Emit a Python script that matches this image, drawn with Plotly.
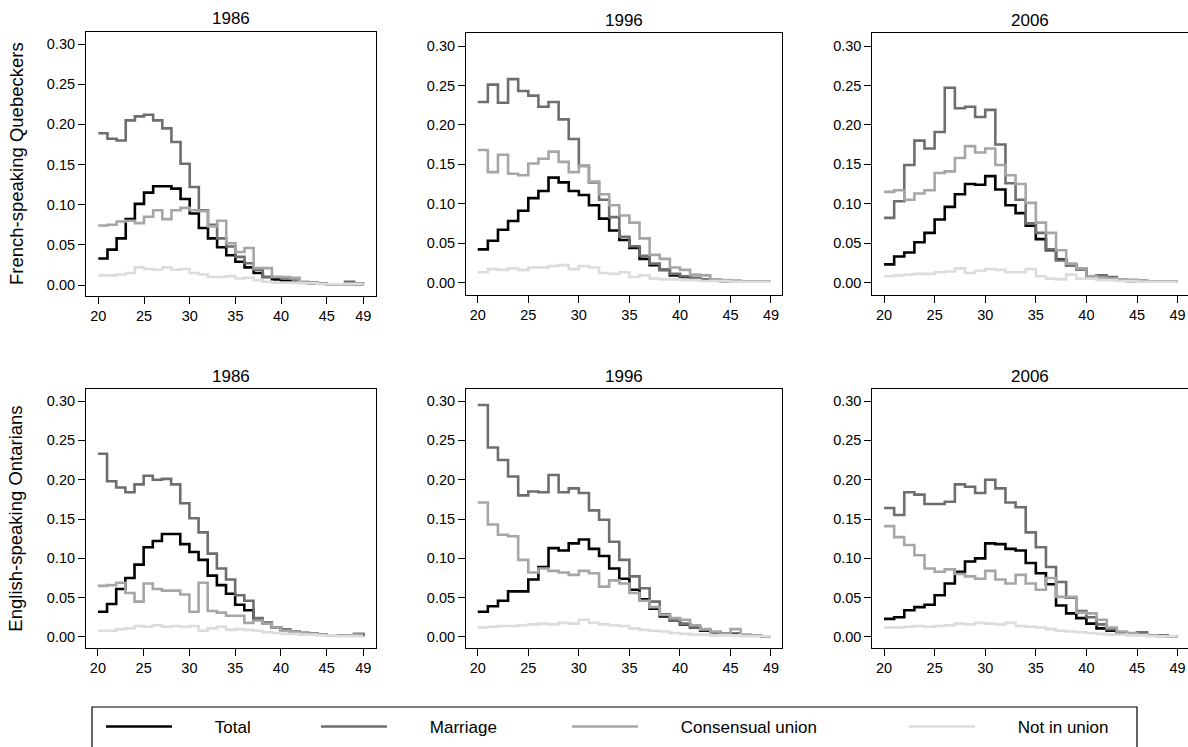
import plotly.graph_objects as go

# ---------------- data ----------------
AGES = list(range(20, 50))
X_TICKS = [20, 25, 30, 35, 40, 45, 49]
Y_TICKS = [0.0, 0.05, 0.10, 0.15, 0.20, 0.25, 0.30]
Y_TICK_LABELS = ["0.00", "0.05", "0.10", "0.15", "0.20", "0.25", "0.30"]
YEARS = ["1986", "1996", "2006"]
GROUPS = ["French-speaking Quebeckers", "English-speaking Ontarians"]
SERIES = ["Total", "Marriage", "Consensual union", "Not in union"]

# French-speaking Quebeckers
QC_1986_TOTAL = [0.033, 0.044, 0.058, 0.082, 0.101, 0.115, 0.123, 0.123, 0.120, 0.107, 0.089, 0.071, 0.058, 0.047, 0.037,
                 0.029, 0.022, 0.015, 0.010, 0.007, 0.005, 0.004, 0.003, 0.002, 0.002, 0.001, 0.001, 0.001, 0.001, 0.001]
QC_1986_MARRIAGE = [0.189, 0.182, 0.180, 0.205, 0.210, 0.212, 0.205, 0.195, 0.178, 0.151, 0.122, 0.093, 0.075, 0.058, 0.048,
                    0.035, 0.027, 0.019, 0.010, 0.010, 0.008, 0.008, 0.003, 0.003, 0.002, 0.001, 0.001, 0.004, 0.001, 0.001]
QC_1986_CONSENSUAL = [0.074, 0.075, 0.079, 0.080, 0.077, 0.085, 0.093, 0.082, 0.093, 0.096, 0.093, 0.092, 0.073, 0.080, 0.052,
                      0.041, 0.046, 0.021, 0.021, 0.010, 0.010, 0.009, 0.004, 0.003, 0.002, 0.001, 0.001, 0.002, 0.002, 0.001]
QC_1986_NOT_IN_UNION = [0.012, 0.012, 0.013, 0.015, 0.022, 0.020, 0.019, 0.022, 0.019, 0.020, 0.015, 0.013, 0.010, 0.010, 0.011,
                        0.008, 0.009, 0.006, 0.004, 0.003, 0.003, 0.003, 0.002, 0.002, 0.001, 0.001, 0.001, 0.001, 0.001, 0.001]

QC_1996_TOTAL = [0.042, 0.053, 0.067, 0.078, 0.091, 0.107, 0.116, 0.133, 0.127, 0.116, 0.111, 0.098, 0.081, 0.066, 0.054,
                 0.044, 0.030, 0.022, 0.016, 0.009, 0.007, 0.005, 0.004, 0.003, 0.002, 0.002, 0.001, 0.001, 0.001, 0.001]
QC_1996_MARRIAGE = [0.229, 0.251, 0.228, 0.258, 0.243, 0.237, 0.223, 0.229, 0.207, 0.182, 0.148, 0.127, 0.105, 0.083, 0.058,
                    0.046, 0.034, 0.024, 0.016, 0.011, 0.008, 0.006, 0.004, 0.004, 0.002, 0.001, 0.001, 0.001, 0.001, 0.001]
QC_1996_CONSENSUAL = [0.168, 0.140, 0.162, 0.138, 0.136, 0.151, 0.157, 0.166, 0.153, 0.140, 0.148, 0.128, 0.112, 0.098, 0.085,
                      0.076, 0.056, 0.035, 0.030, 0.019, 0.016, 0.010, 0.009, 0.004, 0.003, 0.002, 0.001, 0.001, 0.001, 0.001]
QC_1996_NOT_IN_UNION = [0.013, 0.017, 0.016, 0.018, 0.016, 0.019, 0.019, 0.021, 0.022, 0.017, 0.021, 0.019, 0.012, 0.011, 0.013,
                        0.007, 0.009, 0.005, 0.004, 0.004, 0.003, 0.003, 0.002, 0.002, 0.002, 0.001, 0.001, 0.001, 0.001, 0.001]

QC_2006_TOTAL = [0.023, 0.033, 0.038, 0.051, 0.063, 0.080, 0.096, 0.112, 0.125, 0.124, 0.135, 0.118, 0.098, 0.088, 0.072,
                 0.055, 0.041, 0.029, 0.022, 0.017, 0.007, 0.005, 0.006, 0.003, 0.002, 0.002, 0.001, 0.001, 0.001, 0.001]
QC_2006_MARRIAGE = [0.082, 0.103, 0.149, 0.180, 0.170, 0.191, 0.247, 0.221, 0.223, 0.210, 0.219, 0.175, 0.126, 0.105, 0.075,
                    0.063, 0.042, 0.028, 0.022, 0.017, 0.007, 0.009, 0.007, 0.004, 0.003, 0.002, 0.001, 0.001, 0.001, 0.001]
QC_2006_CONSENSUAL = [0.115, 0.117, 0.105, 0.113, 0.117, 0.139, 0.141, 0.158, 0.173, 0.165, 0.170, 0.149, 0.136, 0.125, 0.101,
                      0.076, 0.063, 0.041, 0.024, 0.018, 0.008, 0.006, 0.005, 0.004, 0.003, 0.002, 0.001, 0.001, 0.001, 0.001]
QC_2006_NOT_IN_UNION = [0.008, 0.009, 0.010, 0.011, 0.011, 0.013, 0.014, 0.018, 0.012, 0.015, 0.017, 0.016, 0.013, 0.013, 0.017,
                        0.008, 0.005, 0.004, 0.010, 0.005, 0.005, 0.003, 0.003, 0.002, 0.002, 0.001, 0.001, 0.001, 0.001, 0.001]

# English-speaking Ontarians
ON_1986_TOTAL = [0.032, 0.042, 0.061, 0.075, 0.092, 0.114, 0.122, 0.131, 0.131, 0.118, 0.108, 0.098, 0.078, 0.066, 0.055,
                 0.041, 0.034, 0.022, 0.018, 0.012, 0.009, 0.007, 0.005, 0.004, 0.003, 0.002, 0.002, 0.002, 0.003, 0.001]
ON_1986_MARRIAGE = [0.233, 0.198, 0.190, 0.184, 0.194, 0.205, 0.200, 0.201, 0.194, 0.170, 0.151, 0.133, 0.106, 0.087, 0.073,
                    0.053, 0.046, 0.024, 0.017, 0.012, 0.009, 0.007, 0.005, 0.004, 0.003, 0.002, 0.002, 0.002, 0.004, 0.001]
ON_1986_CONSENSUAL = [0.065, 0.066, 0.069, 0.056, 0.045, 0.068, 0.061, 0.059, 0.059, 0.054, 0.032, 0.069, 0.033, 0.031, 0.027,
                      0.027, 0.018, 0.021, 0.017, 0.012, 0.008, 0.007, 0.005, 0.004, 0.003, 0.002, 0.002, 0.002, 0.003, 0.003]
ON_1986_NOT_IN_UNION = [0.008, 0.008, 0.010, 0.011, 0.014, 0.013, 0.015, 0.013, 0.014, 0.013, 0.014, 0.008, 0.011, 0.013, 0.009,
                        0.010, 0.009, 0.008, 0.006, 0.005, 0.004, 0.004, 0.003, 0.003, 0.002, 0.002, 0.001, 0.001, 0.001, 0.001]

ON_1996_TOTAL = [0.032, 0.039, 0.046, 0.058, 0.058, 0.073, 0.089, 0.113, 0.110, 0.119, 0.124, 0.112, 0.103, 0.087, 0.074,
                 0.060, 0.048, 0.036, 0.026, 0.021, 0.016, 0.012, 0.008, 0.006, 0.004, 0.004, 0.002, 0.002, 0.001, 0.001]
ON_1996_MARRIAGE = [0.295, 0.241, 0.225, 0.204, 0.180, 0.185, 0.184, 0.206, 0.184, 0.189, 0.183, 0.161, 0.149, 0.121, 0.098,
                    0.077, 0.062, 0.045, 0.029, 0.021, 0.017, 0.012, 0.009, 0.006, 0.004, 0.003, 0.002, 0.002, 0.001, 0.001]
ON_1996_CONSENSUAL = [0.171, 0.143, 0.130, 0.128, 0.098, 0.082, 0.087, 0.084, 0.082, 0.079, 0.084, 0.081, 0.064, 0.072, 0.068,
                      0.056, 0.046, 0.038, 0.028, 0.024, 0.022, 0.015, 0.010, 0.007, 0.004, 0.010, 0.003, 0.002, 0.001, 0.001]
ON_1996_NOT_IN_UNION = [0.012, 0.013, 0.014, 0.014, 0.015, 0.016, 0.017, 0.016, 0.018, 0.017, 0.022, 0.018, 0.016, 0.015, 0.014,
                        0.011, 0.009, 0.008, 0.007, 0.005, 0.004, 0.003, 0.003, 0.002, 0.002, 0.002, 0.001, 0.001, 0.001, 0.001]

ON_2006_TOTAL = [0.023, 0.025, 0.034, 0.038, 0.041, 0.053, 0.068, 0.083, 0.096, 0.100, 0.119, 0.118, 0.112, 0.110, 0.094,
                 0.081, 0.067, 0.040, 0.030, 0.024, 0.017, 0.011, 0.008, 0.005, 0.004, 0.003, 0.002, 0.002, 0.001, 0.001]
ON_2006_MARRIAGE = [0.164, 0.155, 0.184, 0.181, 0.169, 0.169, 0.172, 0.194, 0.191, 0.183, 0.200, 0.189, 0.171, 0.165, 0.133,
                    0.114, 0.089, 0.070, 0.050, 0.033, 0.025, 0.016, 0.010, 0.006, 0.004, 0.006, 0.002, 0.002, 0.001, 0.001]
ON_2006_CONSENSUAL = [0.141, 0.127, 0.117, 0.104, 0.087, 0.083, 0.086, 0.080, 0.077, 0.074, 0.084, 0.073, 0.068, 0.079, 0.068,
                      0.060, 0.075, 0.051, 0.051, 0.031, 0.030, 0.022, 0.012, 0.007, 0.005, 0.003, 0.002, 0.001, 0.001, 0.001]
ON_2006_NOT_IN_UNION = [0.012, 0.012, 0.013, 0.014, 0.013, 0.014, 0.015, 0.017, 0.016, 0.018, 0.017, 0.016, 0.018, 0.014, 0.013,
                        0.012, 0.010, 0.008, 0.007, 0.006, 0.005, 0.004, 0.003, 0.003, 0.002, 0.002, 0.001, 0.001, 0.001, 0.001]

PANEL_DATA = [
    [QC_1986_TOTAL, QC_1986_MARRIAGE, QC_1986_CONSENSUAL, QC_1986_NOT_IN_UNION],
    [QC_1996_TOTAL, QC_1996_MARRIAGE, QC_1996_CONSENSUAL, QC_1996_NOT_IN_UNION],
    [QC_2006_TOTAL, QC_2006_MARRIAGE, QC_2006_CONSENSUAL, QC_2006_NOT_IN_UNION],
    [ON_1986_TOTAL, ON_1986_MARRIAGE, ON_1986_CONSENSUAL, ON_1986_NOT_IN_UNION],
    [ON_1996_TOTAL, ON_1996_MARRIAGE, ON_1996_CONSENSUAL, ON_1996_NOT_IN_UNION],
    [ON_2006_TOTAL, ON_2006_MARRIAGE, ON_2006_CONSENSUAL, ON_2006_NOT_IN_UNION],
]

# ---------------- styling / layout ----------------
W, H = 1188, 747
FONT = "Liberation Sans, Arial, Helvetica, sans-serif"
COLORS = ["#000000", "#6e6e6e", "#a6a6a6", "#dcdcdc"]
LINE_W = 2.6

# panel boxes in pixels: left, right, top, bottom ; x range ; y range
BOXES = [
    (86.0, 376.0, 32.0, 296.0, [18.65, 50.39], [-0.0137, 0.315]),
    (466.0, 782.3, 33.0, 294.5, [18.84, 50.12], [-0.0152, 0.3165]),
    (872.3, 1188.0, 33.0, 294.5, [18.84, 50.04], [-0.0152, 0.3165]),
    (86.0, 376.0, 389.3, 648.0, [18.70, 50.39], [-0.0140, 0.3149]),
    (466.0, 782.3, 389.3, 648.0, [18.84, 50.12], [-0.0140, 0.3149]),
    (872.3, 1188.0, 389.3, 648.0, [18.84, 50.04], [-0.0140, 0.3149]),
]

fig = go.Figure()
legend_ids = ["legend", "legend2", "legend3", "legend4"]
PAD = "\u00a0" * 8

for p, series_vals in enumerate(PANEL_DATA):
    ax = "" if p == 0 else str(p + 1)
    for s, vals in enumerate(series_vals):
        fig.add_trace(go.Scatter(
            x=AGES, y=vals, mode="lines", line_shape="hv",
            line=dict(color=COLORS[s], width=LINE_W),
            name=PAD + SERIES[s],
            showlegend=(p == 0), legend=legend_ids[s],
            xaxis="x" + ax, yaxis="y" + ax, hoverinfo="skip",
        ))

layout = dict(
    width=W, height=H,
    margin=dict(l=0, r=0, t=0, b=0, pad=0),
    paper_bgcolor="white", plot_bgcolor="white",
    font=dict(family=FONT, color="#000000", size=14.5),
    annotations=[], shapes=[],
)

for p, (l, r, t, b, xr, yr) in enumerate(BOXES):
    ax = "" if p == 0 else str(p + 1)
    layout["xaxis" + ax] = dict(
        domain=[l / W, min(r / W, 1.0)], range=xr, anchor="y" + ax,
        tickmode="array", tickvals=X_TICKS, ticktext=[str(v) for v in X_TICKS],
        ticks="outside", ticklen=7, tickwidth=1, tickcolor="#000",
        showline=True, mirror=True, linecolor="#000", linewidth=1,
        showgrid=False, zeroline=False, tickfont=dict(size=14.5, family=FONT, color="#000"),
        fixedrange=True,
    )
    layout["yaxis" + ax] = dict(
        domain=[1 - b / H, 1 - t / H], range=yr, anchor="x" + ax,
        tickmode="array", tickvals=Y_TICKS, ticktext=Y_TICK_LABELS,
        ticks="outside", ticklen=7, tickwidth=1, tickcolor="#000",
        showline=True, mirror=True, linecolor="#000", linewidth=1,
        showgrid=False, zeroline=False, tickfont=dict(size=14.5, family=FONT, color="#000"),
        fixedrange=True,
    )
    # panel title (year)
    layout["annotations"].append(dict(
        text=YEARS[p % 3], xref="paper", yref="paper",
        x=((l + r) / 2) / W, y=1 - (t - 13.0) / H,
        xanchor="center", yanchor="middle", showarrow=False,
        font=dict(size=17, family=FONT, color="#000"),
    ))

# row titles
for row, (t, b) in enumerate([(32.0, 296.0), (389.3, 648.0)]):
    layout["annotations"].append(dict(
        text=GROUPS[row], xref="paper", yref="paper",
        x=16 / W, y=1 - ((t + b) / 2) / H, textangle=-90,
        xanchor="center", yanchor="middle", showarrow=False,
        font=dict(size=18.5, family=FONT, color="#000"),
    ))

# legend frame
layout["shapes"].append(dict(
    type="rect", xref="paper", yref="paper",
    x0=92 / W, x1=1137 / W, y0=-0.02, y1=1 - 707 / H,
    line=dict(color="#000", width=1.2), fillcolor="rgba(0,0,0,0)", layer="below",
))

KEY_X = [106, 321, 572, 909]
for i, lid in enumerate(legend_ids):
    layout[lid] = dict(
        orientation="h", x=(KEY_X[i] - 5) / W, xanchor="left",
        y=1 - 727 / H, yanchor="middle", itemwidth=66,
        bgcolor="rgba(0,0,0,0)", borderwidth=0,
        font=dict(size=17, family=FONT, color="#000"),
        itemclick=False, itemdoubleclick=False,
    )

fig.update_layout(**layout)
fig.write_html("out.html")
